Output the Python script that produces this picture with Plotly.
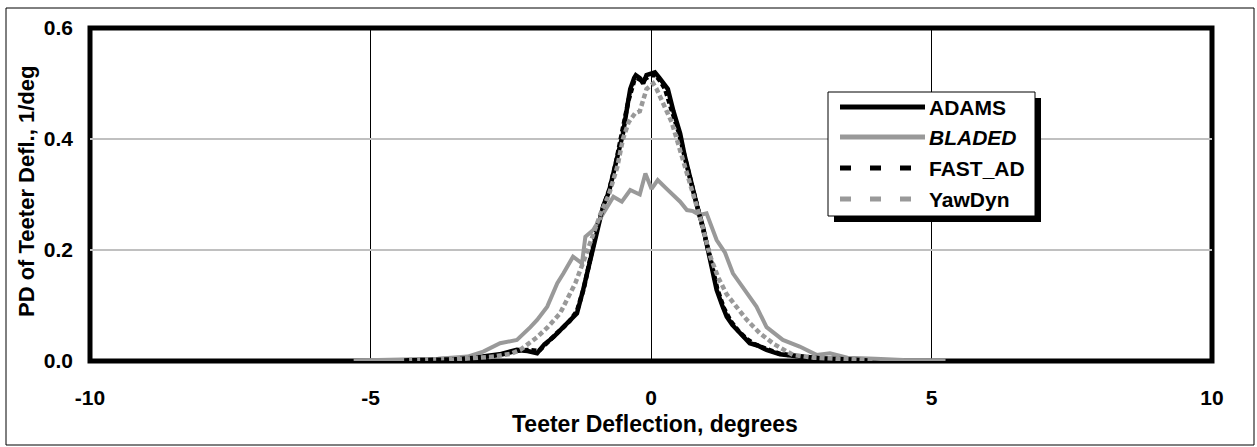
import plotly.graph_objects as go

# ---------------- data ----------------
adams_x = [-4.5, -4.0, -3.5, -3.0, -2.7, -2.39, -2.2, -2.03, -1.9, -1.74, -1.6, -1.5, -1.4, -1.32, -1.21,
           -1.09, -0.96, -0.85, -0.75, -0.64, -0.5, -0.42, -0.37, -0.3, -0.27, -0.2, -0.14, -0.08, 0.0,
           0.07, 0.15, 0.22, 0.3, 0.4, 0.52, 0.6, 0.69, 0.82, 0.93, 1.05, 1.17, 1.27, 1.35, 1.45, 1.53,
           1.65, 1.76, 1.9, 2.06, 2.3, 2.65, 3.0, 3.5, 4.0, 4.3]
adams_y = [0.001, 0.002, 0.004, 0.008, 0.012, 0.02, 0.018, 0.014, 0.03, 0.043, 0.058, 0.068, 0.078, 0.086, 0.128,
           0.18, 0.24, 0.28, 0.305, 0.35, 0.41, 0.46, 0.49, 0.51, 0.515, 0.51, 0.50, 0.515, 0.518,
           0.52, 0.51, 0.50, 0.49, 0.45, 0.41, 0.37, 0.33, 0.28, 0.24, 0.18, 0.128, 0.10, 0.08, 0.065, 0.056,
           0.045, 0.032, 0.028, 0.02, 0.012, 0.008, 0.004, 0.003, 0.001, 0.0005]

bladed_x = [-5.3, -4.8, -4.3, -3.8, -3.27, -2.99, -2.69, -2.39, -2.15, -2.03, -1.85, -1.67, -1.56, -1.39,
            -1.23, -1.17, -1.03, -0.85, -0.67, -0.52, -0.37, -0.2, -0.1, 0.01, 0.12, 0.28, 0.39, 0.52,
            0.64, 0.75, 0.87, 0.99, 1.17, 1.32, 1.46, 1.7, 1.88, 2.06, 2.35, 2.65, 2.95, 3.19, 3.5,
            4.0, 4.5, 5.25]
bladed_y = [0.001, 0.002, 0.004, 0.004, 0.008, 0.017, 0.032, 0.038, 0.061, 0.074, 0.098, 0.14, 0.158, 0.188,
            0.176, 0.224, 0.236, 0.266, 0.296, 0.287, 0.308, 0.30, 0.338, 0.31, 0.326, 0.31, 0.30, 0.287,
            0.272, 0.27, 0.263, 0.266, 0.218, 0.195, 0.158, 0.122, 0.098, 0.061, 0.038, 0.026, 0.011, 0.014,
            0.006, 0.004, 0.002, 0.001]

fast_x = [-4.4, -4.0, -3.5, -3.0, -2.7, -2.4, -2.2, -2.0, -1.85, -1.7, -1.55, -1.45, -1.32, -1.2,
          -1.08, -0.95, -0.85, -0.74, -0.63, -0.5, -0.4, -0.3, -0.25, -0.16, -0.08, 0.0, 0.08, 0.16,
          0.25, 0.35, 0.5, 0.62, 0.72, 0.84, 0.95, 1.06, 1.18, 1.3, 1.42, 1.55, 1.7, 1.85, 2.05,
          2.3, 2.6, 3.0, 3.5, 3.9]
fast_y = [0.001, 0.002, 0.003, 0.007, 0.011, 0.018, 0.02, 0.018, 0.034, 0.048, 0.062, 0.072, 0.09, 0.13,
          0.185, 0.245, 0.278, 0.31, 0.355, 0.415, 0.47, 0.505, 0.51, 0.505, 0.51, 0.515, 0.515, 0.505,
          0.49, 0.46, 0.41, 0.36, 0.32, 0.275, 0.235, 0.185, 0.13, 0.095, 0.072, 0.055, 0.04, 0.03, 0.022,
          0.013, 0.009, 0.005, 0.003, 0.001]

yawdyn_x = [-3.6, -3.2, -2.8, -2.5, -2.33, -2.2, -2.03, -1.85, -1.62, -1.5, -1.35, -1.2, -1.05, -0.9,
            -0.75, -0.6, -0.5, -0.4, -0.28, -0.2, -0.08, 0.04, 0.1, 0.2, 0.28, 0.37, 0.46, 0.6, 0.75,
            0.9, 1.05, 1.2, 1.35, 1.53, 1.7, 1.94, 2.2, 2.53, 2.9, 3.3, 3.7, 4.0]
yawdyn_y = [0.002, 0.004, 0.008, 0.013, 0.02, 0.03, 0.043, 0.06, 0.086, 0.11, 0.14, 0.18, 0.225, 0.265,
            0.30, 0.35, 0.40, 0.43, 0.447, 0.45, 0.49, 0.50, 0.49, 0.47, 0.45, 0.43, 0.40, 0.35, 0.30,
            0.25, 0.19, 0.15, 0.12, 0.097, 0.075, 0.05, 0.03, 0.011, 0.006, 0.004, 0.002, 0.001]

x_ticks = [-10, -5, 0, 5, 10]
x_tick_labels = ["-10", "-5", "0", "5", "10"]
y_ticks = [0.0, 0.2, 0.4, 0.6]
y_tick_labels = ["0.0", "0.2", "0.4", "0.6"]

series_names = ["ADAMS", "BLADED", "FAST_AD", "YawDyn"]

# ---------------- styling ----------------
W, H = 1257, 447
L, R, T, B = 90, 1212, 28, 361          # plot area in pixels
FONT = "Liberation Sans, Arial, sans-serif"
GRAY = "#999999"


def px(xp):
    return (xp - L) / (R - L)


def py(yp):
    return (B - yp) / (B - T)


fig = go.Figure()
styles = [
    dict(color="black", width=4.5, dash="solid"),
    dict(color=GRAY, width=4, dash="solid"),
    dict(color="black", width=4.5, dash="5px,3px"),
    dict(color=GRAY, width=4.5, dash="5px,3px"),
]
data = [(adams_x, adams_y), (bladed_x, bladed_y), (fast_x, fast_y), (yawdyn_x, yawdyn_y)]
for name, (xs, ys), st in zip(series_names, data, styles):
    fig.add_trace(go.Scatter(x=xs, y=ys, mode="lines", name=name, line=st, showlegend=False))

shapes = []
# outer chart border
shapes.append(dict(type="rect", xref="paper", yref="paper", x0=px(6), x1=px(1254), y0=py(8), y1=py(445),
                   line=dict(color="black", width=1), layer="below"))
# thick plot frame
shapes.append(dict(type="rect", xref="paper", yref="paper", x0=0, x1=1, y0=0, y1=1,
                   line=dict(color="black", width=5), layer="between"))
# legend shadow + box
shapes.append(dict(type="rect", xref="paper", yref="paper", x0=px(834), x1=px(1041), y0=py(98), y1=py(222),
                   line=dict(width=0), fillcolor="black", layer="above"))
shapes.append(dict(type="rect", xref="paper", yref="paper", x0=px(828), x1=px(1035), y0=py(92), y1=py(216),
                   line=dict(color="black", width=1), fillcolor="white", layer="above"))

rows = [107, 137, 168, 199]
leg_dash = ["solid", "solid", "11px,19px", "11px,19px"]
annotations = []
for name, st, yr, dsh in zip(series_names, styles, rows, leg_dash):
    shapes.append(dict(type="line", xref="paper", yref="paper", x0=px(840), x1=px(925), y0=py(yr), y1=py(yr),
                       line=dict(color=st["color"], width=5, dash=dsh), layer="above"))
    text = "<i>%s</i>" % name if name == "BLADED" else name
    annotations.append(dict(x=px(927), y=py(yr), xref="paper", yref="paper", text=text, showarrow=False,
                            xanchor="left", yanchor="middle",
                            font=dict(family=FONT, size=21, color="black", weight="bold")))

# axis titles
annotations.append(dict(x=px(655), y=py(424), xref="paper", yref="paper", text="Teeter Deflection, degrees",
                        showarrow=False, xanchor="center", yanchor="middle",
                        font=dict(family=FONT, size=23, color="black", weight="bold")))
annotations.append(dict(x=px(26), y=py(192), xref="paper", yref="paper", text="PD of Teeter Defl., 1/deg",
                        showarrow=False, xanchor="center", yanchor="middle", textangle=-90,
                        font=dict(family=FONT, size=22, color="black", weight="bold")))

fig.update_layout(
    width=W, height=H,
    margin=dict(l=L, r=W - R, t=T, b=H - B, pad=0),
    paper_bgcolor="white", plot_bgcolor="white",
    shapes=shapes, annotations=annotations,
    showlegend=False,
    font=dict(family=FONT, color="black"),
)
fig.update_xaxes(range=[-10, 10], tickvals=x_ticks, ticktext=x_tick_labels, showgrid=True,
                 gridcolor="black", gridwidth=1, zeroline=False, showline=False, ticks="",
                 ticklabelstandoff=22, tickfont=dict(family=FONT, size=21, color="black", weight="bold"))
fig.update_yaxes(range=[0, 0.6], tickvals=y_ticks, ticktext=y_tick_labels, showgrid=True,
                 gridcolor="#c0c0c0", gridwidth=2, zeroline=False, showline=False, ticks="",
                 ticklabelstandoff=16, tickfont=dict(family=FONT, size=21, color="black", weight="bold"))

fig.write_html("out.html")
